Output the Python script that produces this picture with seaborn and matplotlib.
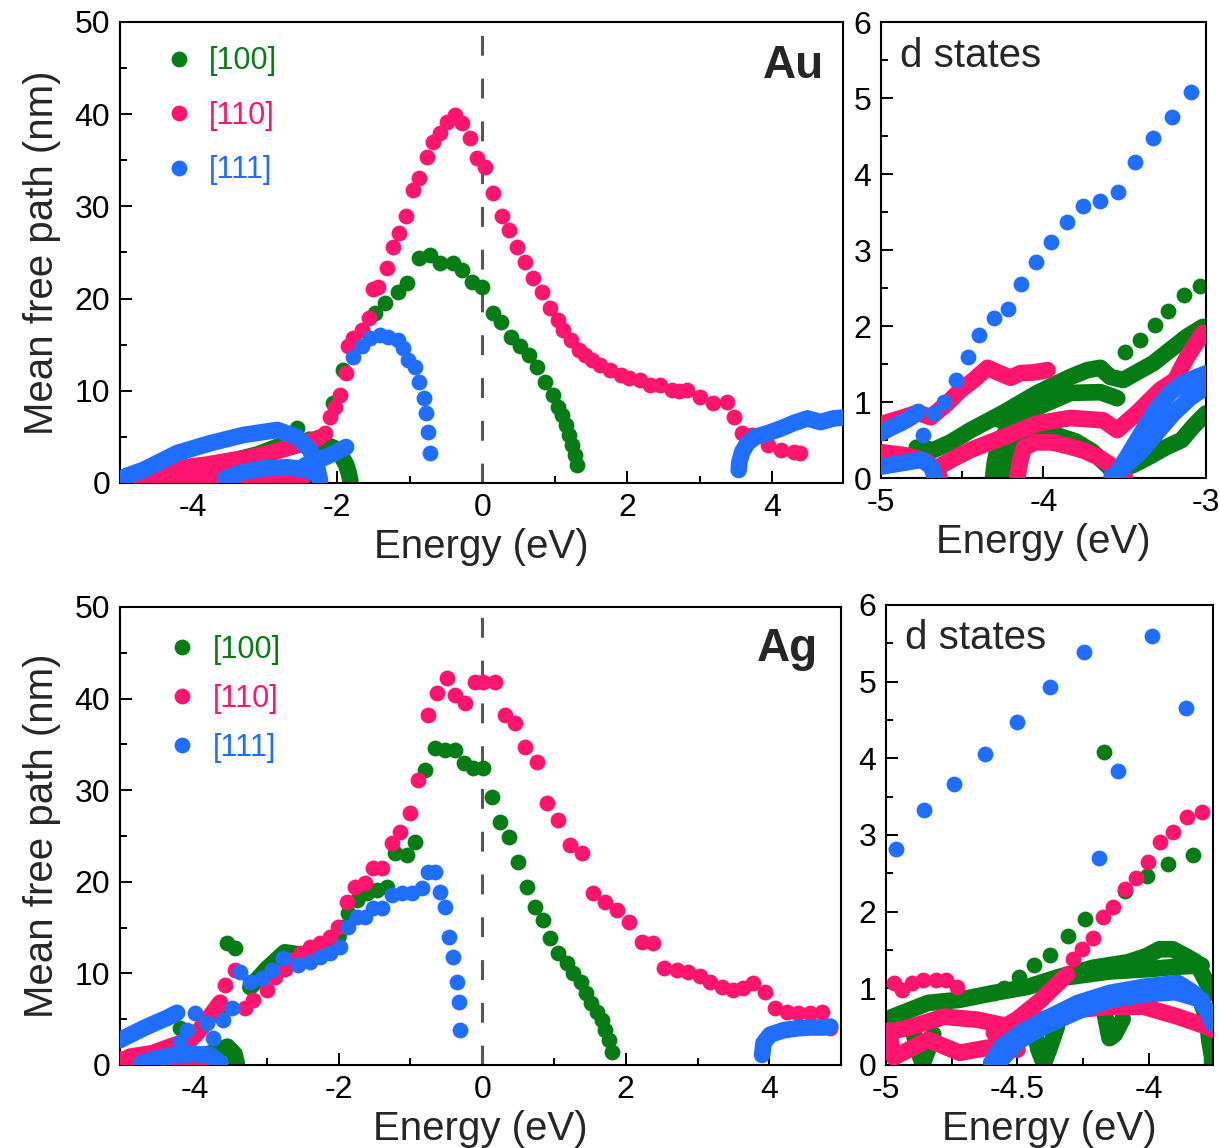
import matplotlib
matplotlib.use("Agg")
import matplotlib.pyplot as plt
import seaborn as sns
from matplotlib.lines import Line2D
from matplotlib.ticker import MultipleLocator, FuncFormatter

# ---------------- colours ----------------
GREEN = "#067d14"
PINK = "#ff146e"
BLUE = "#1f6eff"
SERIES = ["[100]", "[110]", "[111]"]

# ================= Au : full energy range =================
AU_G_PEAK_E = [-2.06, -1.92, -1.48, -1.34, -1.17, -1.04, -0.88, -0.72, -0.58, -0.41, -0.28, -0.14, 0.00, 0.15,
               0.26, 0.40, 0.52, 0.64, 0.76, 0.87, 0.97, 1.04, 1.10, 1.16, 1.20, 1.24, 1.28, 1.31]
AU_G_PEAK_L = [8.7, 12.3, 18.4, 19.5, 20.7, 21.7, 24.4, 24.7, 23.9, 23.9, 23.1, 21.8, 21.3, 18.4,
               17.5, 15.8, 14.8, 13.9, 12.6, 11.0, 9.5, 8.2, 7.4, 6.3, 5.2, 4.1, 3.0, 2.0]
AU_G_DOT_E = [-2.56]
AU_G_DOT_L = [6.0]
AU_G_B1_E = [-4.7, -4.3, -3.9, -3.5, -3.1, -2.8, -2.6]
AU_G_B1_L = [0.3, 0.9, 1.6, 2.3, 3.1, 4.0, 4.6]
AU_G_B2_E = [-4.6, -4.2, -3.8, -3.4, -3.0, -2.6, -2.3]
AU_G_B2_L = [0.1, 0.3, 0.3, 0.4, 0.6, 0.5, 0.3]
AU_G_B3_E = [-2.38, -2.2, -2.05, -1.95, -1.88, -1.84, -1.82]
AU_G_B3_L = [4.7, 4.3, 3.8, 3.0, 2.0, 1.0, 0.2]

AU_P_PEAK_E = [-2.17, -2.10, -2.03, -1.96, -1.88, -1.85, -1.78, -1.66, -1.56, -1.51, -1.44, -1.31, -1.23, -1.15,
               -1.05, -0.95, -0.88, -0.76, -0.68, -0.58, -0.49, -0.37, -0.28, -0.17, -0.07, 0.04, 0.15, 0.27,
               0.37, 0.48, 0.59, 0.70, 0.83, 0.94, 1.04, 1.12, 1.22, 1.33, 1.42, 1.52, 1.63, 1.77, 1.91, 2.02,
               2.18, 2.32, 2.46, 2.62, 2.72, 2.83, 3.01, 3.19, 3.38, 3.47, 3.59, 3.73, 3.94, 4.12, 4.30, 4.39]
AU_P_PEAK_L = [5.4, 7.2, 8.2, 9.5, 11.9, 14.9, 15.7, 16.6, 17.9, 21.0, 21.3, 23.3, 25.6, 27.1,
               28.9, 31.8, 33.1, 35.4, 37.0, 38.0, 39.2, 39.9, 39.0, 37.4, 35.2, 34.3, 31.5, 28.9,
               27.4, 25.6, 24.0, 22.2, 20.7, 19.0, 17.7, 16.6, 15.5, 14.4, 13.9, 13.3, 12.8, 12.3, 11.7, 11.4,
               11.2, 10.6, 10.6, 10.1, 10.0, 10.1, 9.3, 8.7, 8.8, 7.2, 5.4, 5.2, 4.1, 3.6, 3.4, 3.3]
AU_P_HI_E = [-5.0, -4.7, -4.4, -4.1, -3.8, -3.5, -3.2, -2.9, -2.6, -2.4, -2.25]
AU_P_HI_L = [0.4, 0.6, 1.1, 1.7, 2.0, 2.4, 2.8, 3.3, 4.0, 4.4, 4.9]
AU_P_LO_E = [-4.9, -4.6, -4.3, -4.0, -3.6, -3.2, -2.8, -2.5]
AU_P_LO_L = [0.1, 0.3, 0.6, 0.8, 0.6, 0.4, 0.3, 0.2]

AU_B_PEAK_E = [-1.78, -1.66, -1.55, -1.41, -1.30, -1.17, -1.09, -1.02, -0.93, -0.88, -0.81, -0.77, -0.75, -0.72]
AU_B_PEAK_L = [13.7, 14.8, 15.7, 16.1, 15.8, 15.5, 14.6, 13.3, 12.6, 11.0, 9.2, 7.6, 5.5, 3.3]
AU_B_HI_E = [-5.0, -4.9, -4.68, -4.21, -3.76, -3.30, -2.83, -2.56, -2.38, -2.28, -2.24]
AU_B_HI_L = [0.4, 0.8, 1.4, 3.25, 4.3, 5.2, 5.75, 5.0, 3.6, 1.7, 0.3]
AU_B_LO_E = [-3.55, -3.3, -3.0, -2.7, -2.45, -2.3]
AU_B_LO_L = [0.5, 1.2, 1.6, 1.7, 1.5, 1.0]
AU_B_RISE_E = [-2.45, -2.25, -2.05, -1.88]
AU_B_RISE_L = [1.9, 2.5, 3.2, 3.9]
AU_B_RIGHT_E = [3.54, 3.55, 3.59, 3.66, 3.77, 3.94, 4.12, 4.30, 4.49, 4.67, 4.85, 4.99]
AU_B_RIGHT_L = [1.4, 2.3, 3.4, 4.3, 5.0, 5.4, 5.9, 6.5, 7.0, 6.6, 7.0, 7.1]

# ================= Au : d states =================
AUD_B_DOT_E = [-4.742, -4.675, -4.613, -4.540, -4.466, -4.399, -4.307, -4.221, -4.141, -4.049, -3.951,
               -3.853, -3.755, -3.650, -3.540, -3.436, -3.325, -3.209, -3.092]
AUD_B_DOT_L = [0.57, 0.86, 1.0, 1.29, 1.59, 1.88, 2.11, 2.22, 2.55, 2.84, 3.11,
               3.37, 3.58, 3.64, 3.76, 4.16, 4.47, 4.75, 5.08]
AUD_B_UL_E = [-5.0, -4.94, -4.88, -4.82, -4.77]
AUD_B_UL_L = [0.59, 0.66, 0.72, 0.79, 0.87]
AUD_B_LL_E = [-5.0, -4.86, -4.75, -4.69, -4.67]
AUD_B_LL_L = [0.15, 0.2, 0.24, 0.15, 0.02]
AUD_B_R1_E = [-3.546, -3.485, -3.423, -3.362, -3.301, -3.221, -3.141, -3.055, -2.994]
AUD_B_R1_L = [0.07, 0.28, 0.5, 0.72, 0.92, 1.12, 1.25, 1.33, 1.38]
AUD_B_R2_E = [-3.58, -3.5, -3.4, -3.3, -3.2, -3.1, -3.0]
AUD_B_R2_L = [0.02, 0.15, 0.35, 0.6, 0.85, 1.05, 1.2]

AUD_G_DOT_E = [-3.497, -3.405, -3.313, -3.233, -3.135, -3.037]
AUD_G_DOT_L = [1.66, 1.82, 2.01, 2.2, 2.41, 2.53]
AUD_G_U_E = [-4.78, -4.675, -4.571, -4.448, -4.245, -4.037, -3.834, -3.730, -3.650, -3.589, -3.509, -3.325,
             -3.117, -3.018]
AUD_G_U_L = [0.4, 0.37, 0.47, 0.63, 0.86, 1.12, 1.33, 1.42, 1.45, 1.33, 1.29, 1.51, 1.86, 1.99]
AUD_G_M_E = [-4.264, -4.037, -3.834, -3.650, -3.546]
AUD_G_M_L = [0.76, 0.93, 1.12, 1.13, 1.05]
AUD_G_A_E = [-4.31, -4.30, -4.28, -4.25, -4.2, -4.15]
AUD_G_A_L = [0.0, 0.2, 0.4, 0.55, 0.68, 0.78]
AUD_G_B_E = [-4.22, -4.2, -4.15, -4.08, -4.0, -3.9, -3.8, -3.7, -3.6, -3.55]
AUD_G_B_L = [0.05, 0.3, 0.5, 0.6, 0.6, 0.55, 0.48, 0.35, 0.15, 0.02]
AUD_G_R_E = [-3.55, -3.45, -3.35, -3.25, -3.15, -3.07, -3.0]
AUD_G_R_L = [0.1, 0.17, 0.28, 0.4, 0.5, 0.7, 0.85]

AUD_P_U_E = [-4.982, -4.92, -4.859, -4.773, -4.693, -4.589, -4.509, -4.429, -4.344, -4.282, -4.202, -4.141,
             -4.061, -3.975]
AUD_P_U_L = [0.72, 0.76, 0.80, 0.86, 0.80, 0.99, 1.16, 1.29, 1.45, 1.39, 1.32, 1.38, 1.39, 1.42]
AUD_P_LL_E = [-5.0, -4.85, -4.72, -4.66, -4.64]
AUD_P_LL_L = [0.34, 0.3, 0.22, 0.1, 0.02]
AUD_P_M_E = [-4.65, -4.55, -4.448, -4.245, -4.037, -3.834, -3.632, -3.546, -3.423, -3.282, -3.160, -3.018]
AUD_P_M_L = [0.14, 0.26, 0.37, 0.54, 0.72, 0.79, 0.76, 0.63, 0.86, 1.16, 1.33, 1.2]
AUD_P_S_E = [-3.546, -3.436, -3.325, -3.221, -3.117, -3.018]
AUD_P_S_L = [0.07, 0.41, 0.76, 1.16, 1.59, 1.91]
AUD_P_A_E = [-4.16, -4.14, -4.12, -4.05, -3.95, -3.85, -3.75, -3.65, -3.55, -3.5]
AUD_P_A_L = [0.02, 0.25, 0.4, 0.47, 0.47, 0.42, 0.36, 0.26, 0.12, 0.02]

# ================= Ag : full energy range =================
AG_P_PEAK_E = [-3.58, -3.44, -3.30, -3.19, -3.00, -2.88, -2.75, -2.65, -2.52, -2.40, -2.26, -2.12, -2.01, -1.88,
               -1.77, -1.63, -1.52, -1.39, -1.25, -1.14, -1.00, -0.89, -0.75, -0.63, -0.49, -0.38, -0.24, -0.10,
               0.01, 0.18, 0.32, 0.46, 0.60, 0.77, 0.91, 1.06, 1.23, 1.39, 1.55, 1.71, 1.88, 2.04, 2.23, 2.38,
               2.54, 2.72, 2.87, 3.04, 3.18, 3.34, 3.50, 3.64, 3.78, 3.94, 4.08, 4.25, 4.40, 4.57, 4.74, 4.85]
AG_P_PEAK_L = [8.7, 10.4, 6.2, 7.1, 8.2, 9.6, 10.5, 11.5, 12.2, 12.9, 13.3, 14.0, 15.1, 17.8,
               19.4, 19.9, 21.5, 21.5, 24.2, 25.4, 27.5, 31.1, 38.2, 40.6, 42.2, 40.4, 39.5, 41.8,
               41.8, 41.8, 38.2, 37.3, 34.7, 33.1, 28.6, 26.7, 24.0, 23.1, 18.8, 17.8, 16.9, 15.6, 13.4, 13.3,
               10.6, 10.4, 10.2, 9.7, 9.1, 8.5, 8.2, 8.4, 9.0, 8.0, 6.2, 5.8, 5.7, 5.7, 5.8, 4.0]
AG_P_BAND_E = [-5.0, -4.91, -4.75, -4.59, -4.35, -4.07, -3.97, -3.83, -3.65]
AG_P_BAND_L = [0.5, 0.9, 1.1, 1.3, 2.0, 2.7, 3.5, 4.9, 6.8]
AG_P_LOW_E = [-5.05, -4.9, -4.6, -4.3, -4.0, -3.7]
AG_P_LOW_L = [0.6, 0.4, 0.2, 0.15, 0.15, 0.1]

AG_G_PEAK_E = [-1.94, -1.87, -1.74, -1.60, -1.46, -1.32, -1.21, -1.05, -0.93, -0.79, -0.66, -0.52, -0.38, -0.26,
               -0.13, 0.01, 0.14, 0.25, 0.38, 0.50, 0.63, 0.74, 0.85, 0.95, 1.06, 1.18, 1.27, 1.37, 1.44, 1.51,
               1.60, 1.67, 1.71, 1.76, 1.81]
AG_G_PEAK_L = [15.1, 16.6, 18.0, 18.8, 19.1, 19.4, 23.1, 22.9, 24.3, 32.2, 34.6, 34.4, 34.4, 33.0,
               32.4, 32.4, 29.3, 26.5, 24.9, 22.2, 19.4, 17.2, 15.8, 13.9, 12.2, 11.1, 10.0, 9.1, 7.9, 6.8,
               5.8, 4.9, 3.8, 2.7, 1.4]
AG_G_DOT_E = [-3.55, -3.44, -3.65, -4.21]
AG_G_DOT_L = [13.3, 12.8, 6.2, 4.0]
AG_G_BAND_E = [-3.23, -3.0, -2.75, -2.49, -2.2, -2.0]
AG_G_BAND_L = [8.5, 10.5, 12.3, 12.0, 12.6, 14.0]
AG_G_LOW_E = [-4.9, -4.5, -4.2, -3.9, -3.7, -3.55, -3.45, -3.42]
AG_G_LOW_L = [0.2, 0.4, 0.6, 1.0, 1.5, 2.0, 1.2, 0.2]

AG_B_PEAK_E = [-3.37, -3.23, -3.07, -2.93, -2.77, -2.56, -2.40, -2.26, -2.12, -1.98, -1.87, -1.74, -1.63, -1.52,
               -1.39, -1.25, -1.11, -0.98, -0.84, -0.75, -0.66, -0.59, -0.52, -0.46, -0.40, -0.35, -0.32, -0.31]
AG_B_PEAK_L = [10.2, 9.1, 9.5, 10.4, 11.7, 10.9, 11.2, 11.8, 12.2, 12.9, 15.1, 16.2, 16.2, 17.1,
               17.1, 18.6, 18.8, 18.8, 19.3, 21.1, 21.1, 18.9, 17.2, 14.0, 11.8, 9.1, 6.9, 3.8]
AG_B_BAND_E = [-5.05, -4.9, -4.72, -4.55, -4.4, -4.25]
AG_B_BAND_L = [2.7, 3.3, 4.0, 4.6, 5.1, 5.7]
AG_B_DOT_E = [-4.21, -4.11, -4.0, -3.83, -3.75, -3.61, -3.48]
AG_B_DOT_L = [2.5, 3.8, 5.7, 4.6, 2.9, 4.9, 6.2]
AG_B_LOW_E = [-4.75, -4.5, -4.25, -4.0, -3.79, -3.65]
AG_B_LOW_L = [0.2, 0.8, 1.1, 1.2, 1.1, 0.2]
AG_B_RIGHT_E = [3.90, 3.92, 4.01, 4.20, 4.39, 4.57, 4.75, 4.85]
AG_B_RIGHT_L = [1.1, 2.4, 3.3, 3.8, 4.0, 4.1, 4.1, 4.2]

# ================= Ag : d states =================
AGD_B_DOT_E = [-4.962, -4.856, -4.742, -4.625, -4.5, -4.375, -4.246, -4.189, -4.117, -3.989, -3.860]
AGD_B_DOT_L = [2.82, 3.32, 3.66, 4.05, 4.48, 4.93, 5.39, 2.70, 3.84, 5.60, 4.65]
AGD_B_A1_E = [-4.6, -4.56, -4.49, -4.40, -4.27, -4.15, -4.02, -3.89, -3.83, -3.78, -3.76]
AGD_B_A1_L = [0.03, 0.24, 0.42, 0.59, 0.81, 0.94, 1.02, 1.07, 0.94, 0.72, 0.55]
AGD_B_A2_E = [-4.58, -4.5, -4.4, -4.27, -4.15, -4.02, -3.9, -3.8]
AGD_B_A2_L = [0.0, 0.3, 0.5, 0.7, 0.85, 0.92, 0.95, 0.85]

AGD_G_DOT_E = [-4.59, -4.553, -4.496, -4.439, -4.375, -4.307, -4.242, -4.17, -4.091, -4.008, -3.928, -3.833]
AGD_G_DOT_L = [0.94, 1.0, 1.15, 1.31, 1.44, 1.68, 1.90, 4.08, 2.27, 2.46, 2.62, 2.74]
AGD_G_U_E = [-4.98, -4.84, -4.72, -4.59, -4.46, -4.34, -4.21, -4.08, -4.01, -3.96, -3.91, -3.86, -3.82, -3.78,
             -3.76]
AGD_G_U_L = [0.62, 0.81, 0.85, 0.94, 1.02, 1.15, 1.27, 1.34, 1.42, 1.51, 1.51, 1.42, 1.34, 1.07, 0.94]
AGD_G_M_E = [-4.3, -4.15, -4.0, -3.9, -3.8]
AGD_G_M_L = [1.15, 1.22, 1.25, 1.28, 1.3]
AGD_G_V1_E = [-4.9, -4.88, -4.86, -4.84, -4.82]
AGD_G_V1_L = [0.5, 0.2, 0.02, 0.2, 0.4]
AGD_G_V2_E = [-4.44, -4.42, -4.40, -4.38, -4.35]
AGD_G_V2_L = [0.5, 0.2, 0.02, 0.2, 0.5]
AGD_G_V3_E = [-4.17, -4.15, -4.13, -4.1]
AGD_G_V3_L = [0.7, 0.35, 0.4, 0.6]
AGD_G_R_E = [-3.8, -3.78, -3.77, -3.76, -3.76]
AGD_G_R_L = [0.8, 0.6, 0.3, 0.1, 0.02]

AGD_P_UL_E = [-4.97, -4.94, -4.90, -4.86, -4.81, -4.77, -4.73]
AGD_P_UL_L = [1.07, 0.98, 1.07, 1.11, 1.11, 1.11, 1.02]
AGD_P_DIAG_E = [-4.59, -4.5, -4.41, -4.36, -4.311]
AGD_P_DIAG_L = [0.42, 0.6, 0.85, 1.02, 1.18]
AGD_P_DOT_E = [-4.288, -4.254, -4.212, -4.174, -4.136, -4.091, -4.049, -4.004, -3.958, -3.909, -3.856, -3.799]
AGD_P_DOT_L = [1.38, 1.51, 1.66, 1.93, 2.06, 2.29, 2.44, 2.65, 2.91, 3.04, 3.24, 3.30]
AGD_P_B1_E = [-5.0, -4.9, -4.78, -4.65, -4.53, -4.4, -4.27, -4.15, -4.02, -3.89, -3.78, -3.75]
AGD_P_B1_L = [0.42, 0.5, 0.63, 0.59, 0.5, 0.6, 0.72, 0.76, 0.76, 0.63, 0.5, 0.45]
AGD_P_B2_E = [-4.99, -4.97, -4.84, -4.72, -4.59, -4.5]
AGD_P_B2_L = [0.45, 0.1, 0.33, 0.16, 0.24, 0.2]

# ---------------- style ----------------
sns.set_style("ticks")
plt.rcParams["font.family"] = ["Liberation Sans", "DejaVu Sans"]
plt.rcParams.update({
    "axes.unicode_minus": False,
    "axes.edgecolor": "black", "axes.linewidth": 1.5,
    "xtick.color": "black", "ytick.color": "black",
    "xtick.direction": "in", "ytick.direction": "in",
    "xtick.major.size": 8.5, "ytick.major.size": 8.5,
    "xtick.minor.size": 5, "ytick.minor.size": 5,
    "xtick.major.width": 1.4, "ytick.major.width": 1.4,
    "xtick.minor.width": 1.4, "ytick.minor.width": 1.4,
    "xtick.major.pad": 7, "ytick.major.pad": 7,
    "xtick.labelsize": 23, "ytick.labelsize": 23,
    "axes.labelsize": 29,
})

S = 130       # marker area (pt^2)
LW = 12.0     # band thickness (pt) ~ marker diameter
Z = {GREEN: 2, PINK: 3, BLUE: 4}


def dots(ax, e, l, c):
    sns.scatterplot(x=e, y=l, color=c, s=S, linewidth=0, ax=ax, zorder=Z[c] + 0.5, legend=False)


def band(ax, e, l, c):
    sns.lineplot(x=e, y=l, color=c, lw=LW, sort=False, estimator=None, ax=ax, legend=False,
                 zorder=Z[c], solid_capstyle="round", solid_joinstyle="round")


fig = plt.figure(figsize=(12.2, 11.48), dpi=100)
ax_au = fig.add_axes([0.0984, 0.5793, 0.5926, 0.4016])
ax_aud = fig.add_axes([0.7221, 0.5836, 0.2664, 0.3972])
ax_ag = fig.add_axes([0.0984, 0.0723, 0.5910, 0.3990])
ax_agd = fig.add_axes([0.7262, 0.0723, 0.2680, 0.4007])

# ---- Au main ----
a = ax_au
for e, l in [(AU_G_B1_E, AU_G_B1_L), (AU_G_B2_E, AU_G_B2_L), (AU_G_B3_E, AU_G_B3_L)]:
    band(a, e, l, GREEN)
dots(a, AU_G_PEAK_E, AU_G_PEAK_L, GREEN)
dots(a, AU_G_DOT_E, AU_G_DOT_L, GREEN)
for e, l in [(AU_P_HI_E, AU_P_HI_L), (AU_P_LO_E, AU_P_LO_L)]:
    band(a, e, l, PINK)
dots(a, AU_P_PEAK_E, AU_P_PEAK_L, PINK)
for e, l in [(AU_B_HI_E, AU_B_HI_L), (AU_B_LO_E, AU_B_LO_L), (AU_B_RISE_E, AU_B_RISE_L),
             (AU_B_RIGHT_E, AU_B_RIGHT_L)]:
    band(a, e, l, BLUE)
dots(a, AU_B_PEAK_E, AU_B_PEAK_L, BLUE)

# ---- Au d states ----
a = ax_aud
for e, l in [(AUD_G_U_E, AUD_G_U_L), (AUD_G_M_E, AUD_G_M_L), (AUD_G_A_E, AUD_G_A_L),
             (AUD_G_B_E, AUD_G_B_L), (AUD_G_R_E, AUD_G_R_L)]:
    band(a, e, l, GREEN)
dots(a, AUD_G_DOT_E, AUD_G_DOT_L, GREEN)
for e, l in [(AUD_P_U_E, AUD_P_U_L), (AUD_P_LL_E, AUD_P_LL_L), (AUD_P_M_E, AUD_P_M_L),
             (AUD_P_S_E, AUD_P_S_L), (AUD_P_A_E, AUD_P_A_L)]:
    band(a, e, l, PINK)
for e, l in [(AUD_B_UL_E, AUD_B_UL_L), (AUD_B_LL_E, AUD_B_LL_L), (AUD_B_R1_E, AUD_B_R1_L),
             (AUD_B_R2_E, AUD_B_R2_L)]:
    band(a, e, l, BLUE)
dots(a, AUD_B_DOT_E, AUD_B_DOT_L, BLUE)

# ---- Ag main ----
a = ax_ag
for e, l in [(AG_G_BAND_E, AG_G_BAND_L), (AG_G_LOW_E, AG_G_LOW_L)]:
    band(a, e, l, GREEN)
dots(a, AG_G_PEAK_E, AG_G_PEAK_L, GREEN)
dots(a, AG_G_DOT_E, AG_G_DOT_L, GREEN)
for e, l in [(AG_P_BAND_E, AG_P_BAND_L), (AG_P_LOW_E, AG_P_LOW_L)]:
    band(a, e, l, PINK)
dots(a, AG_P_PEAK_E, AG_P_PEAK_L, PINK)
for e, l in [(AG_B_BAND_E, AG_B_BAND_L), (AG_B_LOW_E, AG_B_LOW_L), (AG_B_RIGHT_E, AG_B_RIGHT_L)]:
    band(a, e, l, BLUE)
dots(a, AG_B_PEAK_E, AG_B_PEAK_L, BLUE)
dots(a, AG_B_DOT_E, AG_B_DOT_L, BLUE)

# ---- Ag d states ----
a = ax_agd
for e, l in [(AGD_G_U_E, AGD_G_U_L), (AGD_G_M_E, AGD_G_M_L), (AGD_G_V1_E, AGD_G_V1_L),
             (AGD_G_V2_E, AGD_G_V2_L), (AGD_G_V3_E, AGD_G_V3_L), (AGD_G_R_E, AGD_G_R_L)]:
    band(a, e, l, GREEN)
dots(a, AGD_G_DOT_E, AGD_G_DOT_L, GREEN)
for e, l in [(AGD_P_B1_E, AGD_P_B1_L), (AGD_P_B2_E, AGD_P_B2_L), (AGD_P_DIAG_E, AGD_P_DIAG_L)]:
    band(a, e, l, PINK)
dots(a, AGD_P_UL_E, AGD_P_UL_L, PINK)
dots(a, AGD_P_DOT_E, AGD_P_DOT_L, PINK)
for e, l in [(AGD_B_A1_E, AGD_B_A1_L), (AGD_B_A2_E, AGD_B_A2_L)]:
    band(a, e, l, BLUE)
dots(a, AGD_B_DOT_E, AGD_B_DOT_L, BLUE)

# ---------------- axes formatting ----------------
fmt_g = FuncFormatter(lambda v, p: f"{v:g}")
for a in (ax_au, ax_ag):
    a.axvline(0, color="#55565c", lw=2.2, linestyle=(0, (6.5, 7.5)), zorder=1)
    a.set_ylim(0, 50)
    a.xaxis.set_major_locator(MultipleLocator(2))
    a.xaxis.set_minor_locator(MultipleLocator(1))
    a.yaxis.set_major_locator(MultipleLocator(10))
    a.yaxis.set_minor_locator(MultipleLocator(5))
    a.set_ylabel("Mean free path (nm)", labelpad=10)
ax_au.set_xlim(-5.0, 4.98)
ax_ag.set_xlim(-5.045, 5.0)

ax_aud.set_xlim(-5, -3)
ax_aud.xaxis.set_major_locator(MultipleLocator(1))
ax_aud.xaxis.set_minor_locator(MultipleLocator(0.5))
ax_agd.set_xlim(-5, -3.757)
ax_agd.xaxis.set_major_locator(MultipleLocator(0.5))
ax_agd.xaxis.set_minor_locator(MultipleLocator(0.25))
for a in (ax_aud, ax_agd):
    a.set_ylim(0, 6)
    a.yaxis.set_major_locator(MultipleLocator(1))
    a.yaxis.set_minor_locator(MultipleLocator(0.5))

for a in (ax_au, ax_aud, ax_ag, ax_agd):
    a.xaxis.set_major_formatter(fmt_g)
    a.yaxis.set_major_formatter(fmt_g)
    a.set_xlabel("Energy (eV)", labelpad=4)
    for sp in a.spines.values():
        sp.set_visible(True)
        sp.set_linewidth(1.5)
        sp.set_color("black")
    a.tick_params(which="both", top=False, right=False)
ax_aud.set_ylabel("")
ax_agd.set_ylabel("")

# labels
ax_au.text(0.931, 0.905, "Au", transform=ax_au.transAxes, fontsize=33, fontweight="bold",
           ha="center", va="center")
ax_ag.text(0.926, 0.908, "Ag", transform=ax_ag.transAxes, fontsize=33, fontweight="bold",
           ha="center", va="center")
ax_aud.text(0.058, 0.926, "d states", transform=ax_aud.transAxes, fontsize=29, ha="left", va="center")
ax_agd.text(0.058, 0.928, "d states", transform=ax_agd.transAxes, fontsize=29, ha="left", va="center")

# legends
handles = [Line2D([], [], marker="o", linestyle="none", markersize=11.4, markerfacecolor=c,
                  markeredgewidth=0, color=c) for c in (GREEN, PINK, BLUE)]
ax_au.legend(handles, SERIES, loc="upper left", bbox_to_anchor=(0.060, 0.947), frameon=False, fontsize=22,
             handlelength=1.0, handletextpad=0.5, labelspacing=0.8, borderpad=0, borderaxespad=0,
             labelcolor=[GREEN, PINK, BLUE])
ax_ag.legend(handles, SERIES, loc="upper left", bbox_to_anchor=(0.065, 0.939), frameon=False, fontsize=22,
             handlelength=1.0, handletextpad=0.5, labelspacing=0.62, borderpad=0, borderaxespad=0,
             labelcolor=[GREEN, PINK, BLUE])

fig.savefig("out.png", dpi=100)
